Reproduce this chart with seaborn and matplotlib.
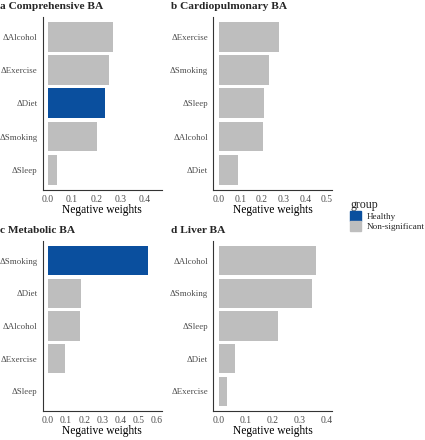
import seaborn as sns
import matplotlib.pyplot as plt
import matplotlib.patches as mpatches
import pandas as pd

# values (negative weights per lifestyle change)
titles = ['a Comprehensive BA', 'b Cardiopulmonary BA', 'c Metabolic BA', 'd Liver BA']
factors_a = ['ΔAlcohol', 'ΔExercise', 'ΔDiet', 'ΔSmoking', 'ΔSleep']
weights_a = [0.271, 0.253, 0.238, 0.203, 0.036]
groups_a = ['Non-significant', 'Non-significant', 'Healthy', 'Non-significant', 'Non-significant']

factors_b = ['ΔExercise', 'ΔSmoking', 'ΔSleep', 'ΔAlcohol', 'ΔDiet']
weights_b = [0.280, 0.231, 0.208, 0.206, 0.091]
groups_b = ['Non-significant'] * 5

factors_c = ['ΔSmoking', 'ΔDiet', 'ΔAlcohol', 'ΔExercise', 'ΔSleep']
weights_c = [0.552, 0.183, 0.179, 0.095, 0.0]
groups_c = ['Healthy', 'Non-significant', 'Non-significant', 'Non-significant', 'Non-significant']

factors_d = ['ΔAlcohol', 'ΔSmoking', 'ΔSleep', 'ΔDiet', 'ΔExercise']
weights_d = [0.359, 0.343, 0.218, 0.059, 0.031]
groups_d = ['Non-significant'] * 5

x_limits = [0.45, 0.5, 0.6, 0.4]
x_ticks = [[0.0, 0.1, 0.2, 0.3, 0.4],
           [0.0, 0.1, 0.2, 0.3, 0.4, 0.5],
           [0.0, 0.1, 0.2, 0.3, 0.4, 0.5, 0.6],
           [0.0, 0.1, 0.2, 0.3, 0.4]]

palette = {'Healthy': '#0A4F9E', 'Non-significant': '#BEBEBE'}

sns.set_style('white')
plt.rcParams['font.family'] = ['Liberation Serif', 'DejaVu Serif']

fig = plt.figure(figsize=(4.25, 4.4), dpi=100)

# axes boxes in figure fractions [left, bottom, width, height]
boxes = [[0.1005, 0.569, 0.28, 0.392],
         [0.502, 0.569, 0.28, 0.392],
         [0.1005, 0.066, 0.28, 0.386],
         [0.502, 0.066, 0.28, 0.386]]

panels = [(factors_a, weights_a, groups_a), (factors_b, weights_b, groups_b),
          (factors_c, weights_c, groups_c), (factors_d, weights_d, groups_d)]

for i, (factors, weights, groups) in enumerate(panels):
    ax = fig.add_axes(boxes[i])
    df = pd.DataFrame({'factor': factors, 'weight': weights, 'group': groups})
    sns.barplot(data=df, x='weight', y='factor', hue='group', palette=palette,
                order=factors, dodge=False, width=0.9, linewidth=0,
                saturation=1, legend=False, ax=ax)
    L = x_limits[i]
    ax.set_xlim(-0.05 * L, 1.05 * L)
    ax.set_ylim(4.6, -0.6)
    ax.set_xticks(x_ticks[i])
    ax.set_xticklabels([f'{t:.1f}' for t in x_ticks[i]])
    ax.set_xlabel('Negative weights', fontsize=8.3, color='black', labelpad=0)
    ax.set_ylabel('')
    ax.set_title(titles[i], loc='left', fontsize=8.2, fontweight='bold',
                 x=-0.36, pad=6)
    for s in ['top', 'right']:
        ax.spines[s].set_visible(False)
    for s in ['left', 'bottom']:
        ax.spines[s].set_color('#333333')
        ax.spines[s].set_linewidth(0.8)
    ax.tick_params(axis='both', length=2.5, width=0.6, color='#333333',
                   labelcolor='#4D4D4D', pad=1.2)
    ax.tick_params(axis='y', labelsize=6.4)
    ax.tick_params(axis='x', labelsize=6.9)

handles = [mpatches.Patch(color=palette[k], label=k) for k in palette]
fig.legend(handles=handles, title='group', loc='upper left',
           bbox_to_anchor=(0.805, 0.566), frameon=False, fontsize=6.6,
           title_fontsize=8.6, handlelength=1.2, handleheight=1.25,
           handletextpad=0.6, labelspacing=0.0, alignment='left')

plt.savefig('out.png', dpi=100)
